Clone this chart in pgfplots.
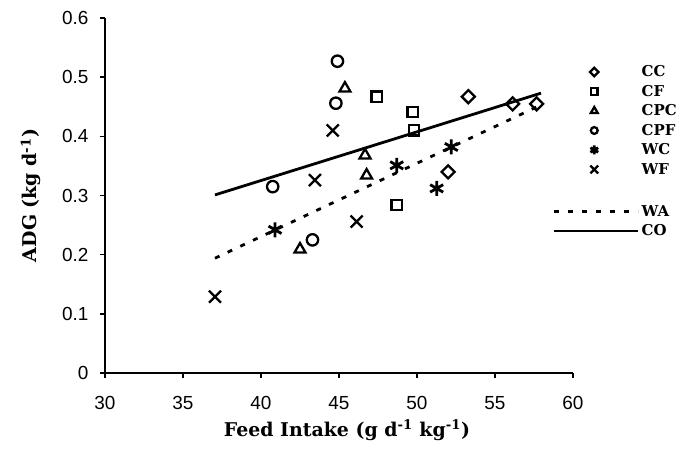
\documentclass[border=0pt]{standalone}
\usepackage{fontspec}
\setmainfont{Liberation Serif}
\newfontfamily\tickfont{Liberation Sans}
\newfontfamily\labfont{DejaVu Serif}
\usepackage{pgfplots}
\pgfplotsset{compat=1.18}
\pgfplotsset{
  mk/.style={only marks, mark options={line width=2.3bp, solid, black, fill=none}},
  mleg/.style={legend image code/.code={\path[draw=none,fill=none] (0bp,0bp) -- (84bp,0bp); \draw[##1, mark size=#1] plot coordinates {(40bp,0bp)};}},
  lleg/.style={legend image code/.code={\draw[##1] (0bp,0bp) -- (84bp,0bp);}},
}
\begin{document}
\begin{tikzpicture}
\useasboundingbox (-105bp,-99bp) rectangle (573bp,373bp);
\begin{axis}[
  at={(0,0)}, anchor=south west,
  scale only axis, width=468bp, height=355bp,
  xmin=30, xmax=60, ymin=0, ymax=0.6,
  xtick={30,35,40,45,50,55,60},
  ytick={0,0.1,0.2,0.3,0.4,0.5,0.6},
  axis x line*=bottom, axis y line*=left,
  axis line style={-, line width=2.4bp, black},
  tick align=outside, major tick length=5bp,
  tick style={line width=1.5bp, black},
  /pgf/number format/assume math mode=true,
  /pgf/number format/.cd, fixed, precision=1, /pgfplots/.cd,
  tick label style={font=\fontsize{19}{22}\selectfont\tickfont},
  yticklabel style={anchor=east, xshift=-8bp},
  xticklabel style={anchor=north, yshift=-15bp},
  every axis x label/.style={at={(axis description cs:0.517,-0.161)}, anchor=center},
  every axis y label/.style={at={(axis description cs:-0.158,0.5)}, rotate=90, anchor=center},
  label style={font=\fontsize{19}{22}\selectfont\labfont\bfseries},
  xlabel={Feed Intake (g d\textsuperscript{-1} kg\textsuperscript{-1})},
  ylabel={ADG (kg d\textsuperscript{-1})},
  legend style={at={(axis description cs:0.957,0.862)}, anchor=north west, draw=none, fill=none,
    inner sep=0pt, outer sep=0pt, row sep=9.5bp, column sep=2bp,
    font=\fontsize{15}{18}\selectfont\labfont\bfseries,
    nodes={inner sep=0pt, text height=10bp, text depth=0bp}},
  legend cell align=left,
]
% CC
\addplot[mk, mark=square, mark size=4.6bp, mark options={rotate=45, line width=2.3bp, solid, black}, mleg=3bp] coordinates {
 (53.29,0.467) (52.0,0.340) (56.13,0.455) (57.67,0.455)};
\addlegendentry{CC}
% CF
\addplot[mk, mark=square, mark size=5.2bp, mleg=3.2bp] coordinates {
 (47.41,0.467) (49.72,0.441) (49.81,0.410) (48.7,0.284)};
\addlegendentry{CF}
% CPC
\addplot[mk, mark=triangle, mark size=6.3bp, mleg=4bp] coordinates {
 (45.38,0.481) (46.67,0.368) (46.77,0.334) (42.5,0.209)};
\addlegendentry{CPC}
% CPF
\addplot[mk, mark=o, mark size=5.7bp, mleg=3.4bp] coordinates {
 (44.9,0.527) (44.8,0.456) (40.75,0.315) (43.3,0.225)};
\addlegendentry{CPF}
% WC
\addplot[mk, mark=asterisk, mark size=7.5bp, mark options={line width=2.8bp, solid, black}, mleg=4.5bp] coordinates {
 (40.9,0.242) (48.7,0.351) (52.2,0.382) (51.26,0.312)};
\addlegendentry{WC}
% WF
\addplot[mk, mark=x, mark size=8.5bp, mleg=5.5bp] coordinates {
 (44.6,0.410) (43.46,0.326) (46.13,0.256) (37.05,0.129)};
\addlegendentry{WF}
\addlegendimage{legend image code/.code={\path[draw=none,fill=none] (0bp,-6.5bp) -- (84bp,6.5bp);}}
\addlegendentry{}
% WA regression
\addplot[black, line width=2.8bp, dash pattern=on 5bp off 9bp, lleg] coordinates {(37.05,0.194) (57.7,0.450)};
\addlegendentry{WA}
% CO regression
\addplot[black, line width=2.8bp, lleg] coordinates {(37.05,0.301) (57.95,0.473)};
\addlegendentry{CO}
\end{axis}
\end{tikzpicture}
\end{document}
